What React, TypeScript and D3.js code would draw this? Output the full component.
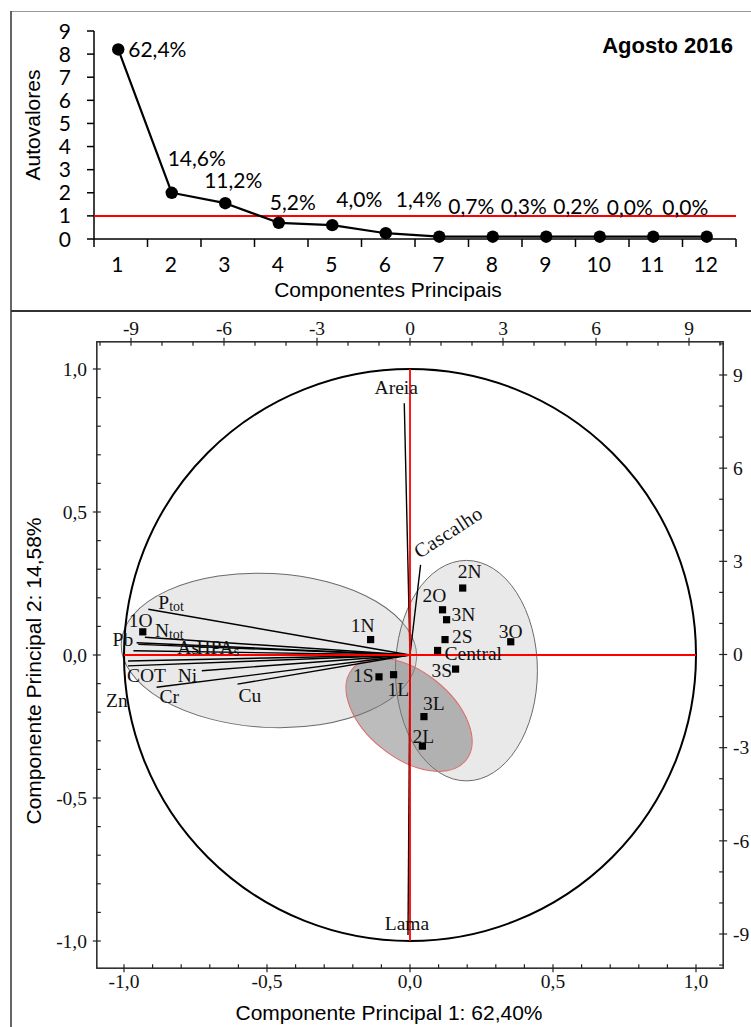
import React from "react";
import * as d3 from "d3";

// ---------- Scree plot data ----------
const components = [1, 2, 3, 4, 5, 6, 7, 8, 9, 10, 11, 12];
const eigenvalues = [8.2, 2.0, 1.55, 0.7, 0.6, 0.25, 0.1, 0.1, 0.1, 0.1, 0.1, 0.1];
const varianceLabels = ["62,4%", "14,6%", "11,2%", "5,2%", "4,0%", "1,4%", "0,7%", "0,3%", "0,2%", "0,0%", "0,0%"];
const eigenTicks = [0, 1, 2, 3, 4, 5, 6, 7, 8, 9];
const kaiserThreshold = 1;
const panelTitle = "Agosto 2016";

// ---------- Biplot data ----------
const variableNames = ["Areia", "Cascalho", "Lama", "Ptot", "Ntot", "Pb", "As", "HPAs", "COT", "Ni", "Cr", "Cu", "Zn"];
const loadingsPC1 = [-0.02, 0.037, -0.007, -0.915, -0.927, -0.956, -0.95, -0.967, -0.986, -0.728, -0.886, -0.603, -0.986];
const loadingsPC2 = [0.88, 0.315, -0.979, 0.16, 0.062, 0.043, 0.037, 0.015, -0.021, -0.055, -0.113, -0.102, -0.038];

const sampleNames = ["1O", "1N", "1S", "1L", "2N", "2O", "2S", "2L", "3N", "3O", "3S", "3L", "Central"];
const scoresPC1 = [-8.62, -1.27, -1.0, -0.53, 1.7, 1.05, 1.13, 0.4, 1.18, 3.25, 1.47, 0.45, 0.89];
const scoresPC2 = [0.73, 0.48, -0.72, -0.65, 2.14, 1.44, 0.48, -2.95, 1.12, 0.41, -0.47, -2.0, 0.13];

const groupCentersPC1 = [-4.55, 1.82, -0.03];
const groupCentersPC2 = [0.13, -0.52, -1.94];
const groupRadiiPC1 = [4.77, 2.29, 2.35];
const groupRadiiPC2 = [2.48, 3.55, 1.39];
const groupAngles = [3, 0, 38.6];

const loadingTicks = [-1, -0.5, 0, 0.5, 1];
const scoreTicks = [-9, -6, -3, 0, 3, 6, 9];
const axisTitleX = "Componente Principal 1: 62,40%";
const axisTitleY = "Componente Principal 2: 14,58%";

// ---------- layout (pixels, not data) ----------
const pctOffsets: [number, number, string][] = [
  [10, 8, "start"], [25, -27, "middle"], [8, -15, "middle"], [14, -13, "middle"], [27, -18, "middle"],
  [33, -26, "middle"], [32, -23, "middle"], [31, -23, "middle"], [30, -23, "middle"], [30, -22, "middle"], [32, -22, "middle"],
];
const varLabelLayout: Record<string, { dx: number; dy: number; anchor: string; rot?: number; main: string; sub?: string }> = {
  Areia: { dx: -8, dy: -9, anchor: "middle", main: "Areia" },
  Cascalho: { dx: -1, dy: -6, anchor: "start", rot: -33, main: "Cascalho" },
  Lama: { dx: -1, dy: -5, anchor: "middle", main: "Lama" },
  Ptot: { dx: 10, dy: 0, anchor: "start", main: "P", sub: "tot" },
  Ntot: { dx: 10, dy: 0, anchor: "start", main: "N", sub: "tot" },
  Pb: { dx: -24, dy: 3, anchor: "start", main: "Pb" },
  As: { dx: 39, dy: 10, anchor: "start", main: "As" },
  HPAs: { dx: 63, dy: 3, anchor: "start", main: "HPA", sub: "s" },
  COT: { dx: -1, dy: 21, anchor: "start", main: "COT" },
  Ni: { dx: -24, dy: 11, anchor: "start", main: "Ni" },
  Cr: { dx: 3, dy: 16, anchor: "start", main: "Cr" },
  Cu: { dx: 1, dy: 18, anchor: "start", main: "Cu" },
  Zn: { dx: -22, dy: 41, anchor: "start", main: "Zn" },
};
const sampleLabelOffsets: Record<string, [number, number]> = {
  "1O": [-14, -5], "1N": [-20, -8], "1S": [-26, 5.5], "1L": [-6, 21],
  "2N": [-5, -10], "2O": [-20, -8], "2S": [7, 3], "2L": [-10, -3],
  "3N": [5, 1.5], "3O": [-12, -4], "3S": [-24, 8], "3L": [-1, -7], Central: [7, 9.5],
};

const SANS = "'Liberation Sans', Arial, sans-serif";
const SERIF = "'Liberation Serif', 'Times New Roman', serif";
const CAL = "Lato, 'Liberation Sans', sans-serif";

const fmtComma = (v: number) => d3.format(".1f")(v).replace(".", ",").replace("−", "-");

export default function App() {
  const W = 751, H = 1027;

  // ----- top scree -----
  const xB = d3.scaleBand<number>().domain(components).range([94, 736]).padding(0);
  const yE = d3.scaleLinear().domain([0, 9]).range([239, 31]);
  const cxB = (c: number) => (xB(c) as number) + xB.bandwidth() / 2 - 2.5;
  const screePath = d3.line<number>().x((_, i) => cxB(components[i])).y((v) => yE(v))(eigenvalues) || "";
  const yAxisX = 94;
  const bandEdges = components.map((c) => xB(c) as number).concat([xB.range()[1]]);

  // ----- biplot -----
  const ext = 1.095;
  const lx = d3.scaleLinear().domain([-1, 1]).range([124, 696]);
  const ly = d3.scaleLinear().domain([-1, 1]).range([941, 369]);
  const sx = d3.scaleLinear().domain([-9, 9]).range([131, 689]);
  const sy = d3.scaleLinear().domain([-9, 9]).range([934, 375]);
  const fx0 = lx(-ext), fx1 = lx(ext), fy0 = ly(ext), fy1 = ly(-ext);
  const ox = lx(0), oy = ly(0);
  const R = lx(1) - lx(0);
  const minorLoad = d3.range(-10, 11).map((i) => i / 10);
  const minorScore = d3.range(-10, 11);

  return (
    <svg width={W} height={H} style={{ position: "absolute", left: 0, top: 0, display: "block", background: "#fff" }}>
      {/* panel borders */}
      <line x1={11} y1={11.5} x2={W} y2={11.5} stroke="#999" strokeWidth={1.2} />
      <line x1={11} y1={11} x2={11} y2={H} stroke="#333" strokeWidth={1.5} />
      <line x1={11} y1={311} x2={W} y2={311} stroke="#333" strokeWidth={2} />

      {/* ===== Scree plot ===== */}
      <g>
        <line x1={yAxisX} y1={yE(0)} x2={yAxisX} y2={yE(9)} stroke="#000" strokeWidth={1.5} />
        {eigenTicks.map((t) => (
          <g key={"yt" + t}>
            <line x1={yAxisX - 7} x2={yAxisX} y1={yE(t)} y2={yE(t)} stroke="#000" strokeWidth={1.5} />
            <text x={71} y={yE(t)} dy="0.36em" textAnchor="end" fontFamily={CAL} fontSize={21} fill="#000">{t}</text>
          </g>
        ))}
        <line x1={yAxisX} y1={yE(0)} x2={xB.range()[1]} y2={yE(0)} stroke="#000" strokeWidth={1.5} />
        {bandEdges.map((e, i) => (
          <line key={"xt" + i} x1={e} x2={e} y1={yE(0)} y2={yE(0) + 8} stroke="#000" strokeWidth={1.5} />
        ))}
        {components.map((c) => (
          <text key={"xl" + c} x={cxB(c) - 1} y={272} textAnchor="middle" fontFamily={CAL} fontSize={21} fill="#000">{c}</text>
        ))}
        <text x={388} y={297} textAnchor="middle" fontFamily={SANS} fontSize={21} fill="#000">Componentes Principais</text>
        <text transform={`translate(40,125) rotate(-90)`} textAnchor="middle" fontFamily={SANS} fontSize={21} fill="#000">Autovalores</text>
        <line x1={yAxisX} x2={736} y1={yE(kaiserThreshold)} y2={yE(kaiserThreshold)} stroke="#ff0000" strokeWidth={2} />
        <path d={screePath} fill="none" stroke="#000" strokeWidth={2.2} strokeLinejoin="round" />
        {eigenvalues.map((v, i) => (
          <circle key={"pt" + i} cx={cxB(components[i])} cy={yE(v)} r={6.2} fill="#000" />
        ))}
        {varianceLabels.map((lab, i) => (
          <text key={"pl" + i} x={cxB(components[i]) + pctOffsets[i][0]} y={yE(eigenvalues[i]) + pctOffsets[i][1]}
            textAnchor={pctOffsets[i][2] as any} fontFamily={CAL} fontSize={21} fill="#000">{lab}</text>
        ))}
        <text x={733} y={53} textAnchor="end" fontFamily={SANS} fontWeight="bold" fontSize={22} fill="#000">{panelTitle}</text>
      </g>

      {/* ===== Biplot ===== */}
      <g>
        {/* group ellipses */}
        {groupCentersPC1.map((c, i) => {
          const ecx = sx(c), ecy = sy(groupCentersPC2[i]);
          const rx = sx(groupRadiiPC1[i]) - sx(0);
          const ry = sy(0) - sy(groupRadiiPC2[i]);
          const dark = i === 2;
          return (
            <ellipse key={"el" + i} cx={ecx} cy={ecy} rx={rx} ry={ry}
              transform={`rotate(${groupAngles[i]} ${ecx} ${ecy})`}
              fill={dark ? "#7a7a7a" : "#c4c4c4"} fillOpacity={dark ? 0.5 : 0.38}
              stroke={dark ? "#e06a6a" : "#6a6a6a"} strokeWidth={1} />
          );
        })}

        {/* unit circle */}
        <circle cx={ox} cy={oy} r={R} fill="none" stroke="#000" strokeWidth={2} />

        {/* loading vectors */}
        {variableNames.map((n, i) => (
          <line key={"v" + n} x1={ox} y1={oy} x2={lx(loadingsPC1[i])} y2={ly(loadingsPC2[i])} stroke="#000" strokeWidth={1.4} />
        ))}

        {/* zero lines */}
        <line x1={lx(-1)} x2={lx(1)} y1={oy} y2={oy} stroke="#ff0000" strokeWidth={1.8} />
        <line x1={ox} x2={ox} y1={ly(1)} y2={ly(-1)} stroke="#ff0000" strokeWidth={1.8} />

        {/* variable labels */}
        {variableNames.map((n, i) => {
          const L = varLabelLayout[n];
          const x = lx(loadingsPC1[i]) + L.dx;
          const y = ly(loadingsPC2[i]) + L.dy;
          return (
            <text key={"vl" + n} x={x} y={y} textAnchor={L.anchor as any} fontFamily={SERIF} fontSize={n === "Cascalho" ? 20 : 19.5}
              letterSpacing={n === "Cascalho" ? 0.5 : 0}
              transform={L.rot ? `rotate(${L.rot} ${x} ${y})` : undefined} fill="#111">
              {L.main}
              {L.sub ? <tspan fontSize={14} dy={2}>{L.sub}</tspan> : null}
            </text>
          );
        })}

        {/* sample markers */}
        {sampleNames.map((s, i) => (
          <rect key={"s" + s} x={sx(scoresPC1[i]) - 3.6} y={sy(scoresPC2[i]) - 3.6} width={7.2} height={7.2} fill="#000" />
        ))}
        {sampleNames.map((s, i) => (
          <text key={"sl" + s} x={sx(scoresPC1[i]) + sampleLabelOffsets[s][0]} y={sy(scoresPC2[i]) + sampleLabelOffsets[s][1]}
            fontFamily={SERIF} fontSize={19.5} fill="#111">{s}</text>
        ))}

        {/* frame */}
        <rect x={fx0} y={fy0} width={fx1 - fx0} height={fy1 - fy0} fill="none" stroke="#222" strokeWidth={1.5} />

        {/* left axis (loadings) */}
        {minorLoad.map((t) => {
          const major = loadingTicks.some((m) => Math.abs(m - t) < 1e-9);
          return <line key={"lt" + t} x1={major ? fx0 - 4 : fx0} x2={fx0 + 4} y1={ly(t)} y2={ly(t)} stroke="#222" strokeWidth={1.2} />;
        })}
        {loadingTicks.map((t) => (
          <text key={"ll" + t} x={87} y={ly(t)} dy="0.35em" textAnchor="end" fontFamily={SERIF} fontSize={19.5} fill="#111">{fmtComma(t)}</text>
        ))}
        {/* bottom axis (loadings) */}
        {minorLoad.map((t) => {
          const major = loadingTicks.some((m) => Math.abs(m - t) < 1e-9);
          return <line key={"bt" + t} x1={lx(t)} x2={lx(t)} y1={fy1 - 4} y2={major ? fy1 + 4 : fy1} stroke="#222" strokeWidth={1.2} />;
        })}
        {loadingTicks.map((t) => (
          <text key={"bl" + t} x={lx(t)} y={988} textAnchor="middle" fontFamily={SERIF} fontSize={19.5} fill="#111">{fmtComma(t)}</text>
        ))}
        {/* top axis (scores) */}
        {minorScore.map((t) => {
          const major = scoreTicks.includes(t);
          return <line key={"tt" + t} x1={sx(t)} x2={sx(t)} y1={major ? fy0 - 4 : fy0} y2={fy0 + 4} stroke="#222" strokeWidth={1.2} />;
        })}
        {scoreTicks.map((t) => (
          <text key={"tl" + t} x={sx(t)} y={335} textAnchor="middle" fontFamily={SERIF} fontSize={19.5} fill="#111">{t}</text>
        ))}
        {/* right axis (scores) */}
        {minorScore.map((t) => {
          const major = scoreTicks.includes(t);
          return <line key={"rt" + t} x1={fx1 - 4} x2={major ? fx1 + 4 : fx1} y1={sy(t)} y2={sy(t)} stroke="#222" strokeWidth={1.2} />;
        })}
        {scoreTicks.map((t) => (
          <text key={"rl" + t} x={733} y={sy(t)} dy="0.35em" textAnchor="start" fontFamily={SERIF} fontSize={19.5} fill="#111">{t}</text>
        ))}

        {/* axis titles */}
        <text x={389} y={1020} textAnchor="middle" fontFamily={SANS} fontSize={21} fill="#000">{axisTitleX}</text>
        <text transform={`translate(41,671) rotate(-90)`} textAnchor="middle" fontFamily={SANS} fontSize={21} fill="#000">{axisTitleY}</text>
      </g>
    </svg>
  );
}
